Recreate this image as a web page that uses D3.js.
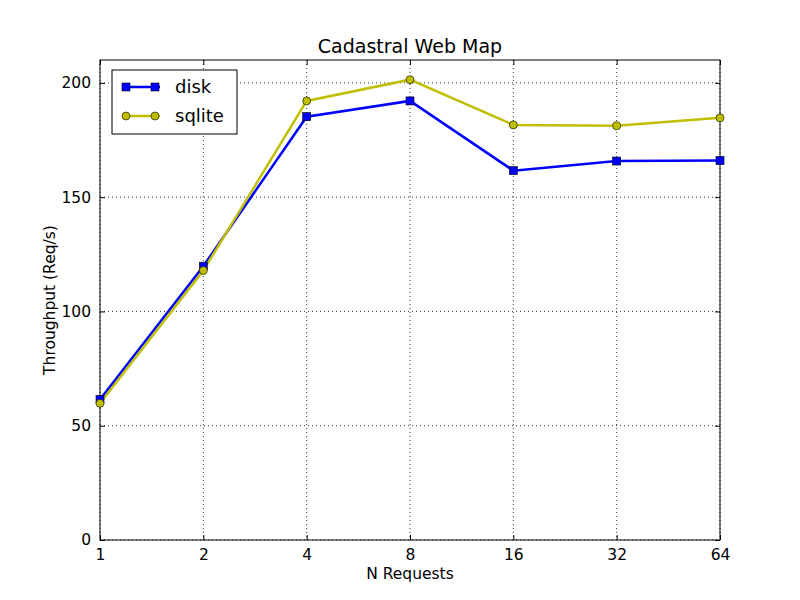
<!DOCTYPE html>
<html><head><meta charset="utf-8">
<script src="https://cdn.jsdelivr.net/npm/d3@7"></script>
<style>body{margin:0;background:#fff}text{font-family:"DejaVu Sans",sans-serif}</style>
</head><body><svg id="c" width="800" height="600"></svg>
<script>
const requests=[1,2,4,8,16,32,64];
const disk=[61.5,119.8,185.2,192.1,161.6,165.8,166];
const sqlite=[59.8,117.9,192.1,201.4,181.6,181.2,184.7];
const yTicks=[0,50,100,150,200];
const svg=d3.select("#c");
const L=100,R=720,T=60,B=540;
const x=d3.scaleLog().base(2).domain([1,64]).range([L,R]);
const y=d3.scaleLinear().domain([0,210]).range([B,T]);
const g=svg.append("g");
requests.forEach(v=>g.append("line").attr("x1",x(v)).attr("x2",x(v)).attr("y1",T).attr("y2",B).attr("stroke","#000").attr("stroke-dasharray","1,3").attr("stroke-width",0.8));
yTicks.forEach(v=>g.append("line").attr("x1",L).attr("x2",R).attr("y1",y(v)).attr("y2",y(v)).attr("stroke","#000").attr("stroke-dasharray","1,3").attr("stroke-width",0.8));
const xa=svg.append("g").attr("transform",`translate(0,${B})`).call(d3.axisBottom(x).tickValues(requests).tickFormat(d3.format("d")).tickSizeInner(-5).tickSizeOuter(0).tickPadding(9));
const xt=svg.append("g").attr("transform",`translate(0,${T})`).call(d3.axisTop(x).tickValues(requests).tickFormat("").tickSizeInner(-5).tickSizeOuter(0));
const ya=svg.append("g").attr("transform",`translate(${L},0)`).call(d3.axisLeft(y).tickValues(yTicks).tickSizeInner(-5).tickSizeOuter(0).tickPadding(9));
const yr=svg.append("g").attr("transform",`translate(${R},0)`).call(d3.axisRight(y).tickValues(yTicks).tickFormat("").tickSizeInner(-5).tickSizeOuter(0));
[xa,xt,ya,yr].forEach(a=>{a.select(".domain").remove();a.selectAll("text").attr("font-size",15.5).attr("fill","#000").style("font-family","DejaVu Sans");});
svg.append("rect").attr("x",L).attr("y",T).attr("width",R-L).attr("height",B-T).attr("fill","none").attr("stroke","#000");
const line=d3.line().x((d,i)=>x(requests[i])).y(d=>y(d));
svg.append("path").datum(disk).attr("d",line).attr("fill","none").attr("stroke","#0000ff").attr("stroke-width",2.5);
svg.append("path").datum(sqlite).attr("d",line).attr("fill","none").attr("stroke","#bfbf00").attr("stroke-width",2.5);
svg.selectAll(".sq").data(disk).enter().append("rect").attr("x",(d,i)=>x(requests[i])-4).attr("y",d=>y(d)-4).attr("width",8).attr("height",8).attr("fill","#0000ff").attr("stroke","#000").attr("stroke-width",0.6);
svg.selectAll(".ci").data(sqlite).enter().append("circle").attr("cx",(d,i)=>x(requests[i])).attr("cy",d=>y(d)).attr("r",4).attr("fill","#bfbf00").attr("stroke","#000").attr("stroke-width",0.6);
svg.append("text").attr("x",410).attr("y",53).attr("text-anchor","middle").attr("font-size",19).text("Cadastral Web Map");
svg.append("text").attr("x",410).attr("y",579).attr("text-anchor","middle").attr("font-size",15.5).text("N Requests");
svg.append("text").attr("transform","translate(55,300) rotate(-90)").attr("text-anchor","middle").attr("font-size",15.5).text("Throughput (Req/s)");
const lg=svg.append("g");
lg.append("rect").attr("x",112).attr("y",70).attr("width",125).attr("height",64).attr("fill","#fff").attr("stroke","#000");
[["disk","#0000ff","sq",87],["sqlite","#bfbf00","ci",116]].forEach(([n,c,m,yy])=>{
 lg.append("line").attr("x1",122).attr("x2",160).attr("y1",yy).attr("y2",yy).attr("stroke",c).attr("stroke-width",2.5);
 [126,155].forEach(px=>{ if(m==="sq") lg.append("rect").attr("x",px-4).attr("y",yy-4).attr("width",8).attr("height",8).attr("fill",c).attr("stroke","#000").attr("stroke-width",0.6);
 else lg.append("circle").attr("cx",px).attr("cy",yy).attr("r",4).attr("fill",c).attr("stroke","#000").attr("stroke-width",0.6);});
 lg.append("text").attr("x",175).attr("y",yy+6).attr("font-size",18).text(n);
});
</script></body></html>
